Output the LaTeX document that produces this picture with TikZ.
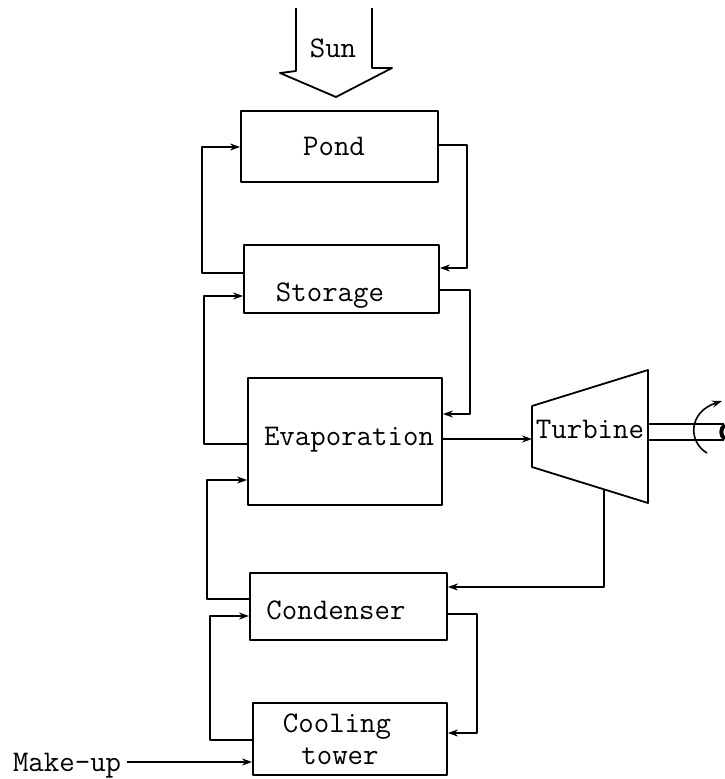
\documentclass[tikz,border=0pt]{standalone}
\usepackage{fontspec}
\usetikzlibrary{arrows.meta,calc}
\begin{document}
\begin{tikzpicture}[x=1pt,y=-1pt,
  every path/.style={line width=1.6pt,line join=round},
  unit/.style={draw,line width=1.8pt,rectangle,inner sep=0pt},
  lbl/.style={font=\ttfamily\fontsize{30}{34}\selectfont,inner sep=0pt,text depth=0pt},
  flow/.style={-{Stealth[length=10pt,width=7pt]}}]
\useasboundingbox (0,0) rectangle (724,779);

% process boxes
\node[unit,minimum width=197pt,minimum height=71pt] (pond) at (339.5,146.5) {};
\node[unit,minimum width=195pt,minimum height=68pt] (storage) at (341.5,279) {};
\node[unit,minimum width=194pt,minimum height=127pt] (evap) at (345,441.5) {};
\node[unit,minimum width=197pt,minimum height=67pt] (cond) at (348.5,606.5) {};
\node[unit,minimum width=194pt,minimum height=72pt] (tower) at (350,739) {};

\node[lbl] (pondtxt) at (334,146) {Pond};
\node[lbl] (storetxt) at (330,292) {Storage};
\node[lbl] (evaptxt) at (349,436) {Evaporation};
\node[lbl] (condtxt) at (336,610) {Condenser};
\node[lbl] (towertxt1) at (337,723) {Cooling};
\node[lbl] (towertxt2) at (340,756) {tower};
\node[lbl,anchor=east] (makeup) at (122,762) {Make-up};

% turbine
\coordinate (tlt) at (532,406);
\coordinate (tlb) at (532,467);
\coordinate (trt) at (648,370);
\coordinate (trb) at (648,503);
\draw[line width=1.8pt] (tlt) -- (trt) -- (trb) -- (tlb) -- cycle;
\node[lbl] (turbtxt) at (590,429) {Turbine};
\coordinate (tout) at ($(tlb)!0.621!(trb)$);

% sun
\node[lbl] (sun) at (333,48) {Sun};
\draw[line width=1.8pt] (296,8) -- (296,71) -- (280,73) -- (336,97) -- (392,68) -- (372,68) -- (372,8);

% pond / storage loop
\draw[flow] (storage.west |- 0,273) -| (202,147) -- (pond.west |- 0,147);
\draw[flow] (pond.east |- 0,145) -| (467,268) -- (storage.east |- 0,268);

% storage / evaporation loop
\draw[flow] (evap.west |- 0,444) -| (204,296) -- (storage.west |- 0,296);
\draw[flow] (storage.east |- 0,290) -| (470,414) -- (evap.east |- 0,414);

% evaporation / condenser loop
\draw[flow] (cond.west |- 0,599) -| (207,480) -- (evap.west |- 0,480);

% condenser / cooling tower loop
\draw[flow] (tower.west |- 0,740) -| (210,616) -- (cond.west |- 0,616);
\draw[flow] (cond.east |- 0,614) -| (477,733) -- (tower.east |- 0,733);

% vapour to turbine, exhaust to condenser
\draw[flow] (evap.east |- 0,439) -- (tlt |- 0,439);
\draw[flow] (tout) -- (tout |- 0,587) -- (cond.east |- 0,587);

% make-up water
\draw[flow] (makeup.east) ++(5,0) coordinate (mkstart) -- (tower.west |- mkstart);

% output shaft
\coordinate (shaftA) at (724,424);
\coordinate (shaftB) at (724,440);
\draw (648,424) -- (shaftA);
\draw (648,440) -- (shaftB);
\draw[flow] (707,453) .. controls (688,442) and (688,412) .. (722,401);
\draw[line width=4pt] (725,425) .. controls (720,428) and (720,436) .. (725,439);
\end{tikzpicture}
\end{document}
